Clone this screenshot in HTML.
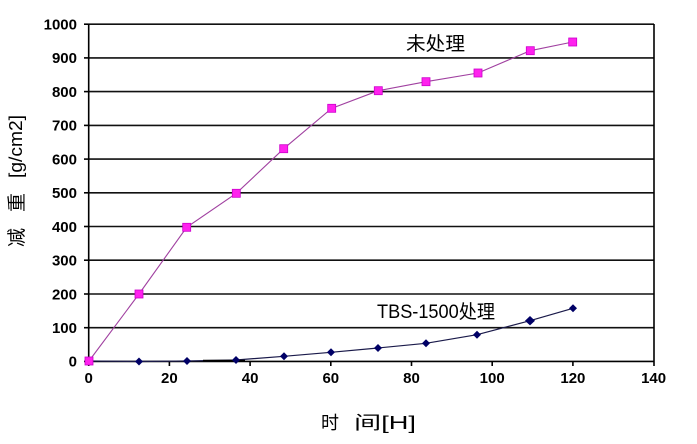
<!DOCTYPE html>
<html><head><meta charset="utf-8"><style>
html,body{margin:0;padding:0;background:#fff;}
svg{display:block;}
.t{font-family:"Liberation Sans",Arial,sans-serif;font-weight:bold;font-size:15px;fill:#000;}
.c{font-family:"Liberation Sans","WenQuanYi Zen Hei","Noto Sans CJK SC",sans-serif;fill:#000;}
</style></head><body>
<svg width="697" height="444" viewBox="0 0 697 444" xmlns="http://www.w3.org/2000/svg">
<rect width="697" height="444" fill="#fff"/>
<!-- gridlines -->
<g stroke="#111" stroke-width="1.6">
<line x1="88" y1="24.2" x2="654" y2="24.2"/>
<line x1="88" y1="57.9" x2="654" y2="57.9"/>
<line x1="88" y1="91.6" x2="654" y2="91.6"/>
<line x1="88" y1="125.4" x2="654" y2="125.4"/>
<line x1="88" y1="159.1" x2="654" y2="159.1"/>
<line x1="88" y1="192.8" x2="654" y2="192.8"/>
<line x1="88" y1="226.5" x2="654" y2="226.5"/>
<line x1="88" y1="260.2" x2="654" y2="260.2"/>
<line x1="88" y1="294" x2="654" y2="294"/>
<line x1="88" y1="327.7" x2="654" y2="327.7"/>
</g>
<g stroke="#000" stroke-width="1.6">
<line x1="88.7" y1="24" x2="88.7" y2="362"/>
<line x1="654" y1="24" x2="654" y2="366"/>
<line x1="84" y1="361.4" x2="654" y2="361.4"/>
<!-- y ticks -->
<line x1="84" y1="24.2" x2="88" y2="24.2"/>
<line x1="84" y1="57.9" x2="88" y2="57.9"/>
<line x1="84" y1="91.6" x2="88" y2="91.6"/>
<line x1="84" y1="125.4" x2="88" y2="125.4"/>
<line x1="84" y1="159.1" x2="88" y2="159.1"/>
<line x1="84" y1="192.8" x2="88" y2="192.8"/>
<line x1="84" y1="226.5" x2="88" y2="226.5"/>
<line x1="84" y1="260.2" x2="88" y2="260.2"/>
<line x1="84" y1="294" x2="88" y2="294"/>
<line x1="84" y1="327.7" x2="88" y2="327.7"/>
<!-- x ticks -->
<line x1="88.7" y1="361" x2="88.7" y2="366"/>
<line x1="169.4" y1="361" x2="169.4" y2="366"/>
<line x1="250.1" y1="361" x2="250.1" y2="366"/>
<line x1="330.8" y1="361" x2="330.8" y2="366"/>
<line x1="411.5" y1="361" x2="411.5" y2="366"/>
<line x1="492.2" y1="361" x2="492.2" y2="366"/>
<line x1="572.9" y1="361" x2="572.9" y2="366"/>
</g>
<!-- y labels -->
<g class="t" text-anchor="end">
<text x="77" y="29.5">1000</text>
<text x="77" y="63.2">900</text>
<text x="77" y="96.9">800</text>
<text x="77" y="130.7">700</text>
<text x="77" y="164.4">600</text>
<text x="77" y="198.1">500</text>
<text x="77" y="231.8">400</text>
<text x="77" y="265.5">300</text>
<text x="77" y="299.3">200</text>
<text x="77" y="333">100</text>
<text x="77" y="366.7">0</text>
</g>
<!-- x labels -->
<g class="t" text-anchor="middle">
<text x="88.7" y="383">0</text>
<text x="169.4" y="383">20</text>
<text x="250.1" y="383">40</text>
<text x="330.8" y="383">60</text>
<text x="411.5" y="383">80</text>
<text x="492.2" y="383">100</text>
<text x="572.9" y="383">120</text>
<text x="653.6" y="383">140</text>
</g>
<!-- series: TBS-1500 -->
<polyline fill="none" stroke="#1a1a4a" stroke-width="1.2" points="89,361 139,361.5 187,361 236,360 284,356.3 331,352.3 378,348 426,343.3 477,334.7 530,320.7 573,308.3"/>
<line x1="203" y1="360.5" x2="245" y2="360.5" stroke="#000" stroke-width="1.6"/>
<g fill="#000066">
<path d="M139,357.5 L143,361.5 L139,365.5 L135,361.5Z"/>
<path d="M187,357 L191,361 L187,365 L183,361Z"/>
<path d="M236,356 L240,360 L236,364 L232,360Z"/>
<path d="M284,352.3 L288,356.3 L284,360.3 L280,356.3Z"/>
<path d="M331,348.3 L335,352.3 L331,356.3 L327,352.3Z"/>
<path d="M378,344 L382,348 L378,352 L374,348Z"/>
<path d="M426,339.3 L430,343.3 L426,347.3 L422,343.3Z"/>
<path d="M477,330.7 L481,334.7 L477,338.7 L473,334.7Z"/>
<path d="M530,316 L535,320.7 L530,325.4 L525,320.7Z"/>
<path d="M573,304.3 L577,308.3 L573,312.3 L569,308.3Z"/>
</g>
<!-- series: untreated -->
<polyline fill="none" stroke="#a040a0" stroke-width="1.1" points="89,361 139,294 186.7,227.3 236.3,193.3 283.7,148.7 331.7,108.3 378.3,90.7 426,81.7 478,73 530.3,50.7 572.7,42"/>
<g fill="#ff22ee" stroke="#cc00cc" stroke-width="0.8">
<rect x="85" y="357" width="8" height="8"/>
<rect x="135" y="290" width="8" height="8"/>
<rect x="182.7" y="223.3" width="8" height="8"/>
<rect x="232.3" y="189.3" width="8" height="8"/>
<rect x="279.7" y="144.7" width="8" height="8"/>
<rect x="327.7" y="104.3" width="8" height="8"/>
<rect x="374.3" y="86.7" width="8" height="8"/>
<rect x="422" y="77.7" width="8" height="8"/>
<rect x="474" y="69" width="8" height="8"/>
<rect x="526.3" y="46.7" width="8" height="8"/>
<rect x="568.7" y="38" width="8" height="8"/>
</g>
<!-- annotations -->
<text class="c" x="406" y="50" font-size="19" textLength="59" lengthAdjust="spacingAndGlyphs">未处理</text>
<text class="c" x="377" y="318" font-size="19" textLength="118" lengthAdjust="spacingAndGlyphs">TBS-1500处理</text>
<!-- axis titles -->
<text class="c" x="321" y="429" font-size="18">时</text>
<text class="c" x="354" y="429" font-size="18" textLength="62" lengthAdjust="spacingAndGlyphs">间[H]</text>
<g transform="translate(23,247) rotate(-90)">
<text class="c" x="0" y="0" font-size="19">减</text>
<text class="c" x="35" y="0" font-size="19">重</text>
<text class="c" x="69" y="-1" font-size="18" textLength="63" lengthAdjust="spacingAndGlyphs">[g/cm2]</text>
</g>
</svg>
</body></html>
